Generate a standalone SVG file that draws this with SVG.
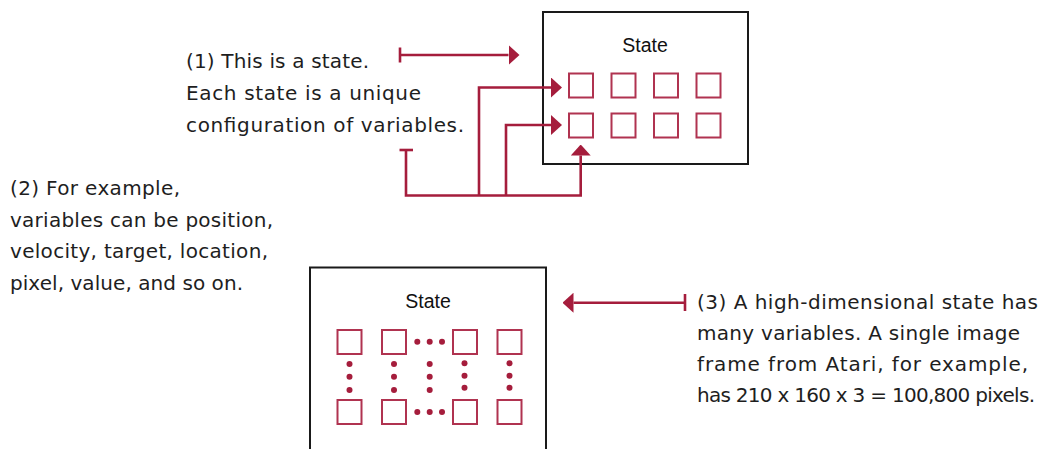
<svg xmlns="http://www.w3.org/2000/svg" width="1043" height="449" viewBox="0 0 1043 449">
  <style>
    .box { fill: #ffffff; stroke: #1a1a1a; stroke-width: 2; }
    .cell { fill: #ffffff; stroke: #b03350; stroke-width: 2; }
    .dot { fill: #a51d3c; }
    .conn { fill: none; stroke: #a51d3c; stroke-width: 2.6; }
    .title { font-family: "Liberation Sans", Arial, sans-serif; font-size: 19.5px; fill: #111111; text-anchor: middle; }
    .note { font-family: "DejaVu Sans", "Liberation Sans", sans-serif; font-size: 20px; fill: #1e1e1e; }
  </style>
  <defs>
    <marker id="ah" viewBox="0 0 11 20" refX="0" refY="10" markerWidth="11" markerHeight="20" orient="auto" markerUnits="userSpaceOnUse">
      <path d="M0,0 L11,10 L0,20 Z" fill="#a51d3c"/>
    </marker>
  </defs>
  <rect width="1043" height="449" fill="#ffffff"/>

  <g id="state-top">
    <rect class="box" x="543" y="12" width="205" height="152"/>
    <text class="title" x="645" y="52">State</text>
    <rect class="cell" x="569" y="73.5" width="24" height="24"/>
    <rect class="cell" x="611.5" y="73.5" width="24" height="24"/>
    <rect class="cell" x="654" y="73.5" width="24" height="24"/>
    <rect class="cell" x="696.5" y="73.5" width="24" height="24"/>
    <rect class="cell" x="569" y="113.5" width="24" height="24"/>
    <rect class="cell" x="611.5" y="113.5" width="24" height="24"/>
    <rect class="cell" x="654" y="113.5" width="24" height="24"/>
    <rect class="cell" x="696.5" y="113.5" width="24" height="24"/>
  </g>

  <g id="state-bottom">
    <rect class="box" x="310" y="267.5" width="236" height="200"/>
    <text class="title" x="428" y="308">State</text>
    <rect class="cell" x="337.5" y="330" width="24" height="24"/>
    <rect class="cell" x="382" y="330" width="24" height="24"/>
    <rect class="cell" x="453" y="330" width="24" height="24"/>
    <rect class="cell" x="497.5" y="330" width="24" height="24"/>
    <rect class="cell" x="337.5" y="400" width="24" height="24"/>
    <rect class="cell" x="382" y="400" width="24" height="24"/>
    <rect class="cell" x="453" y="400" width="24" height="24"/>
    <rect class="cell" x="497.5" y="400" width="24" height="24"/>
    <circle class="dot" cx="417.3" cy="341.7" r="3"/>
    <circle class="dot" cx="429.7" cy="341.7" r="3"/>
    <circle class="dot" cx="442" cy="341.7" r="3"/>
    <circle class="dot" cx="417.3" cy="412" r="3"/>
    <circle class="dot" cx="429.7" cy="412" r="3"/>
    <circle class="dot" cx="442" cy="412" r="3"/>
    <circle class="dot" cx="349.5" cy="364" r="3"/>
    <circle class="dot" cx="349.5" cy="376.7" r="3"/>
    <circle class="dot" cx="349.5" cy="390" r="3"/>
    <circle class="dot" cx="394" cy="364" r="3"/>
    <circle class="dot" cx="394" cy="376.7" r="3"/>
    <circle class="dot" cx="394" cy="390" r="3"/>
    <circle class="dot" cx="429.7" cy="364" r="3"/>
    <circle class="dot" cx="429.7" cy="376.7" r="3"/>
    <circle class="dot" cx="429.7" cy="390" r="3"/>
    <circle class="dot" cx="464.5" cy="363.3" r="3"/>
    <circle class="dot" cx="464.5" cy="375.7" r="3"/>
    <circle class="dot" cx="464.5" cy="387.7" r="3"/>
    <circle class="dot" cx="509.5" cy="363.3" r="3"/>
    <circle class="dot" cx="509.5" cy="375.7" r="3"/>
    <circle class="dot" cx="509.5" cy="387.7" r="3"/>
  </g>

  <g id="note-1">
    <text class="note" x="186" y="67.5" textLength="183" lengthAdjust="spacing">(1) This is a state.</text>
    <text class="note" x="186" y="100" textLength="235" lengthAdjust="spacing">Each state is a unique</text>
    <text class="note" x="186" y="131.5" textLength="278" lengthAdjust="spacing">configuration of variables.</text>
  </g>

  <g id="note-2">
    <text class="note" x="10" y="195" textLength="170" lengthAdjust="spacing">(2) For example,</text>
    <text class="note" x="10" y="226.5" textLength="263" lengthAdjust="spacing">variables can be position,</text>
    <text class="note" x="10" y="258" textLength="258" lengthAdjust="spacing">velocity, target, location,</text>
    <text class="note" x="10" y="289.5" textLength="233" lengthAdjust="spacing">pixel, value, and so on.</text>
  </g>

  <g id="note-3">
    <text class="note" x="697" y="309" textLength="341" lengthAdjust="spacing">(3) A high-dimensional state has</text>
    <text class="note" x="697" y="340" textLength="323" lengthAdjust="spacing">many variables. A single image</text>
    <text class="note" x="697" y="371" textLength="331" lengthAdjust="spacing">frame from Atari, for example,</text>
    <text class="note" x="697" y="402" textLength="338" lengthAdjust="spacing">has 210 x 160 x 3 = 100,800 pixels.</text>
  </g>

  <g id="connectors">
    <path class="conn" d="M400,47.5 V62.5"/>
    <path class="conn" d="M400,55 H508.5" marker-end="url(#ah)"/>
    <path class="conn" d="M399.5,150 H413"/>
    <path class="conn" d="M406,150 V195.5 H580.7 V155.5" marker-end="url(#ah)"/>
    <path class="conn" d="M479,195.5 V87.5 H551" marker-end="url(#ah)"/>
    <path class="conn" d="M506,195.5 V125 H551" marker-end="url(#ah)"/>
    <path class="conn" d="M685,294 V311"/>
    <path class="conn" d="M685,302.7 H573.5" marker-end="url(#ah)"/>
  </g>
</svg>
